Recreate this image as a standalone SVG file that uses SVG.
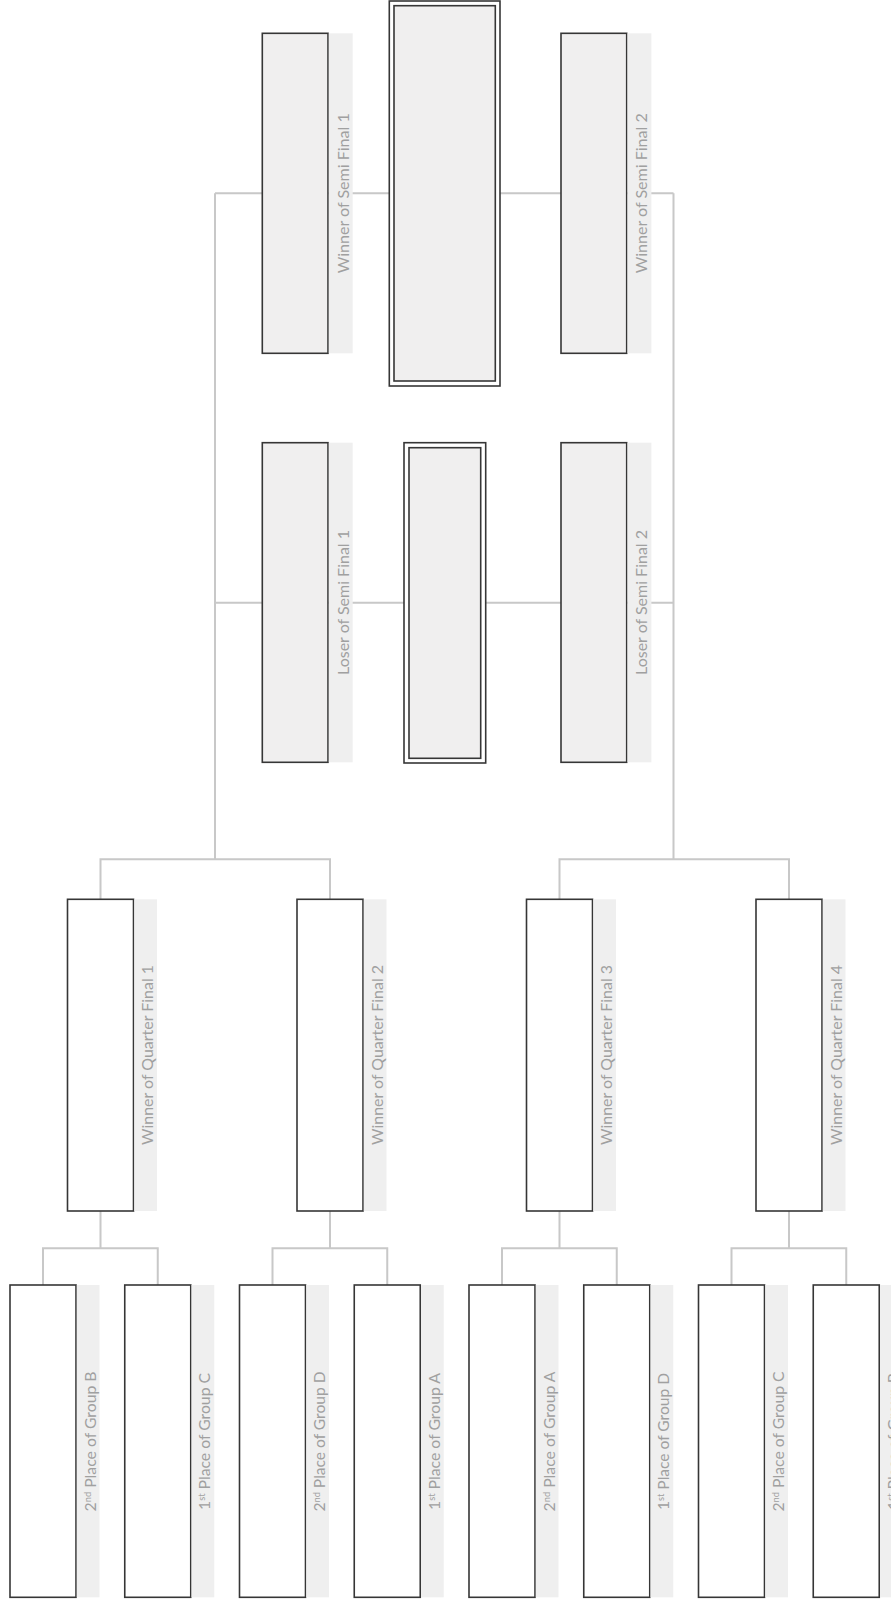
<svg xmlns="http://www.w3.org/2000/svg" width="891" height="1599" viewBox="0 0 891 1599">
<style>
.box{fill:#ffffff;stroke:#363636;stroke-width:1.6}
.gbox{fill:#f0efef;stroke:#363636;stroke-width:1.6}
.obox{fill:#ffffff;stroke:#363636;stroke-width:1.6}
.strip{fill:#efefef;stroke:none}
.lbl{font-family:Lato,"Open Sans","Liberation Sans",sans-serif;font-size:16px;fill:#a0a0a0;text-anchor:middle}
.sup{font-size:9.5px}
.conn{stroke:#c8c8c8;stroke-width:2;fill:none}
</style>
<rect width="891" height="1599" fill="#ffffff"/>
<g id="connectors">
<path class="conn" d="M215,193.3 H673.5 M215,602.7 H673.5 M215,193.3 V859.3 M673.5,193.3 V859.3"/>
<path class="conn" d="M100.5,899.3 V859.3 H330 V899.3 M559.5,899.3 V859.3 H789 V899.3"/>
<path class="conn" d="M100.5,1211 V1248.3 M43,1285 V1248.3 H157.75 V1285"/>
<path class="conn" d="M330,1211 V1248.3 M272.5,1285 V1248.3 H387.25 V1285"/>
<path class="conn" d="M559.5,1211 V1248.3 M502,1285 V1248.3 H616.75 V1285"/>
<path class="conn" d="M789,1211 V1248.3 M731.5,1285 V1248.3 H846.25 V1285"/>
</g>
<g id="final">
<rect class="obox" x="389.3" y="1" width="110.7" height="385"/>
<rect class="gbox" x="394" y="5.7" width="101.3" height="375.3"/>
</g>
<g id="third-place">
<rect class="obox" x="404" y="442.7" width="81.7" height="320.3"/>
<rect class="gbox" x="409" y="447.7" width="71.7" height="310.6"/>
</g>
<g id="winner-sf1">
<rect class="gbox" x="262.3" y="33.3" width="65.7" height="320"/>
<rect class="strip" x="328.8" y="33.3" width="23.9" height="320"/>
<text class="lbl" transform="translate(348.5,193.3) rotate(-90)" textLength="160" lengthAdjust="spacingAndGlyphs">Winner of Semi Final 1</text>
</g>
<g id="winner-sf2">
<rect class="gbox" x="561" y="33.3" width="65.7" height="320"/>
<rect class="strip" x="627.5" y="33.3" width="23.9" height="320"/>
<text class="lbl" transform="translate(647.2,193.3) rotate(-90)" textLength="160" lengthAdjust="spacingAndGlyphs">Winner of Semi Final 2</text>
</g>
<g id="loser-sf1">
<rect class="gbox" x="262.3" y="442.7" width="65.7" height="319.6"/>
<rect class="strip" x="328.8" y="442.7" width="23.9" height="319.6"/>
<text class="lbl" transform="translate(348.5,602.5) rotate(-90)" textLength="145" lengthAdjust="spacingAndGlyphs">Loser of Semi Final 1</text>
</g>
<g id="loser-sf2">
<rect class="gbox" x="561" y="442.7" width="65.7" height="319.6"/>
<rect class="strip" x="627.5" y="442.7" width="23.9" height="319.6"/>
<text class="lbl" transform="translate(647.2,602.5) rotate(-90)" textLength="145" lengthAdjust="spacingAndGlyphs">Loser of Semi Final 2</text>
</g>
<g id="qf1">
<rect class="box" x="67.5" y="899.3" width="66" height="311.7"/>
<rect class="strip" x="134.3" y="899.3" width="22.7" height="311.7"/>
<text class="lbl" transform="translate(153,1055) rotate(-90)" textLength="180" lengthAdjust="spacingAndGlyphs">Winner of Quarter Final 1</text>
</g>
<g id="qf2">
<rect class="box" x="297" y="899.3" width="66" height="311.7"/>
<rect class="strip" x="363.8" y="899.3" width="22.7" height="311.7"/>
<text class="lbl" transform="translate(382.5,1055) rotate(-90)" textLength="180" lengthAdjust="spacingAndGlyphs">Winner of Quarter Final 2</text>
</g>
<g id="qf3">
<rect class="box" x="526.5" y="899.3" width="66" height="311.7"/>
<rect class="strip" x="593.3" y="899.3" width="22.7" height="311.7"/>
<text class="lbl" transform="translate(612,1055) rotate(-90)" textLength="180" lengthAdjust="spacingAndGlyphs">Winner of Quarter Final 3</text>
</g>
<g id="qf4">
<rect class="box" x="756" y="899.3" width="66" height="311.7"/>
<rect class="strip" x="822.8" y="899.3" width="22.7" height="311.7"/>
<text class="lbl" transform="translate(841.5,1055) rotate(-90)" textLength="180" lengthAdjust="spacingAndGlyphs">Winner of Quarter Final 4</text>
</g>
<g id="r16-1">
<rect class="box" x="10" y="1285" width="66" height="312.3"/>
<rect class="strip" x="76.8" y="1285" width="22.7" height="312.3"/>
<text class="lbl" transform="translate(95.5,1441.5) rotate(-90)" textLength="140" lengthAdjust="spacingAndGlyphs">2<tspan class="sup" baseline-shift="super">nd</tspan> Place of Group B</text>
</g>
<g id="r16-2">
<rect class="box" x="124.75" y="1285" width="66" height="312.3"/>
<rect class="strip" x="191.55" y="1285" width="22.7" height="312.3"/>
<text class="lbl" transform="translate(210.25,1441.5) rotate(-90)" textLength="137" lengthAdjust="spacingAndGlyphs">1<tspan class="sup" baseline-shift="super">st</tspan> Place of Group C</text>
</g>
<g id="r16-3">
<rect class="box" x="239.5" y="1285" width="66" height="312.3"/>
<rect class="strip" x="306.3" y="1285" width="22.7" height="312.3"/>
<text class="lbl" transform="translate(325,1441.5) rotate(-90)" textLength="140" lengthAdjust="spacingAndGlyphs">2<tspan class="sup" baseline-shift="super">nd</tspan> Place of Group D</text>
</g>
<g id="r16-4">
<rect class="box" x="354.25" y="1285" width="66" height="312.3"/>
<rect class="strip" x="421.05" y="1285" width="22.7" height="312.3"/>
<text class="lbl" transform="translate(439.75,1441.5) rotate(-90)" textLength="137" lengthAdjust="spacingAndGlyphs">1<tspan class="sup" baseline-shift="super">st</tspan> Place of Group A</text>
</g>
<g id="r16-5">
<rect class="box" x="469" y="1285" width="66" height="312.3"/>
<rect class="strip" x="535.8" y="1285" width="22.7" height="312.3"/>
<text class="lbl" transform="translate(554.5,1441.5) rotate(-90)" textLength="140" lengthAdjust="spacingAndGlyphs">2<tspan class="sup" baseline-shift="super">nd</tspan> Place of Group A</text>
</g>
<g id="r16-6">
<rect class="box" x="583.75" y="1285" width="66" height="312.3"/>
<rect class="strip" x="650.55" y="1285" width="22.7" height="312.3"/>
<text class="lbl" transform="translate(669.25,1441.5) rotate(-90)" textLength="137" lengthAdjust="spacingAndGlyphs">1<tspan class="sup" baseline-shift="super">st</tspan> Place of Group D</text>
</g>
<g id="r16-7">
<rect class="box" x="698.5" y="1285" width="66" height="312.3"/>
<rect class="strip" x="765.3" y="1285" width="22.7" height="312.3"/>
<text class="lbl" transform="translate(784,1441.5) rotate(-90)" textLength="140" lengthAdjust="spacingAndGlyphs">2<tspan class="sup" baseline-shift="super">nd</tspan> Place of Group C</text>
</g>
<g id="r16-8">
<rect class="box" x="813.25" y="1285" width="66" height="312.3"/>
<rect class="strip" x="880.05" y="1285" width="22.7" height="312.3"/>
<text class="lbl" transform="translate(898.75,1441.5) rotate(-90)" textLength="137" lengthAdjust="spacingAndGlyphs">1<tspan class="sup" baseline-shift="super">st</tspan> Place of Group B</text>
</g>
</svg>
